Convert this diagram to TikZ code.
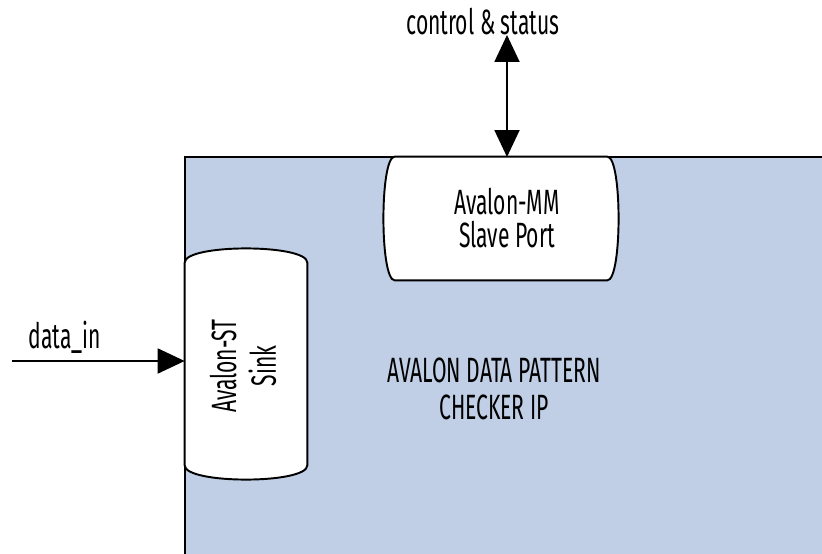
\documentclass[tikz,border=0pt]{standalone}
\usepackage{fontspec}
\setmainfont[FakeStretch=0.6]{Fira Sans}
\usepackage{xcolor}
\usepackage{tikz}
\usetikzlibrary{positioning,arrows.meta,calc}
\definecolor{blockblue}{RGB}{192,207,229}

\begin{document}
\begin{tikzpicture}[
  x=0.02cm, y=-0.02cm,
  font=\fontsize{20}{21}\selectfont, >={Triangle[length=0.54cm,width=0.5cm]},
  portbox/.style={rectangle, inner sep=0pt},
  porttext/.style={align=center, inner sep=0pt, font=\fontsize{20}{#1}\selectfont},
  porttext/.default=18.5pt,
  portline/.style={draw=black, fill=white, line width=1.1pt},
  sigline/.style={line width=1.1pt},
]
\useasboundingbox (0,0) rectangle (822,554);
% ---------- the IP block ----------
\fill[blockblue] (185,157) rectangle (822,554);
\draw[line width=1.3pt] (185,554) |- (822,157);
\node[align=center, font=\fontsize{20}{21.5}\selectfont] (title) at (494,389)
  {AVALON DATA PATTERN\\CHECKER IP};

% ---------- Avalon-MM slave port (top) ----------
\node[portbox, minimum width=4.24cm, minimum height=2.46cm] (mmport) at (501,218.5) {};
\draw[portline] (mmport.north west) -- (mmport.north east)
  .. controls +(15,0) and +(15,0) .. (mmport.south east) -- (mmport.south west)
  .. controls +(-15,0) and +(-15,0) .. cycle;
\node[porttext] (mmtext) at (507,218) {Avalon-MM\\Slave Port};
\coordinate (mmtop) at (507,157);
\coordinate (ctrltop) at (507,35);
\node (ctrl) at (483,22) {control \& status};
\draw[sigline, <->] (ctrltop) -- (mmtop);

% ---------- Avalon-ST sink (left) ----------
\node[portbox, minimum width=2.44cm, minimum height=4.04cm] (stsink) at (246,364) {};
\draw[portline] (stsink.north west)
  .. controls +(0,-19) and +(0,-19) .. (stsink.north east) -- (stsink.south east)
  .. controls +(0,19) and +(0,19) .. (stsink.south west) -- cycle;
\node[porttext=22.7pt, rotate=90] (sinktext) at (243,366) {Avalon-ST\\Sink};
\coordinate (datasrc) at (12,361);
\node (datain) at (65,337) {data\_in};
\draw[sigline, ->] (datasrc) -- (datasrc -| stsink.west);
\end{tikzpicture}
\end{document}
